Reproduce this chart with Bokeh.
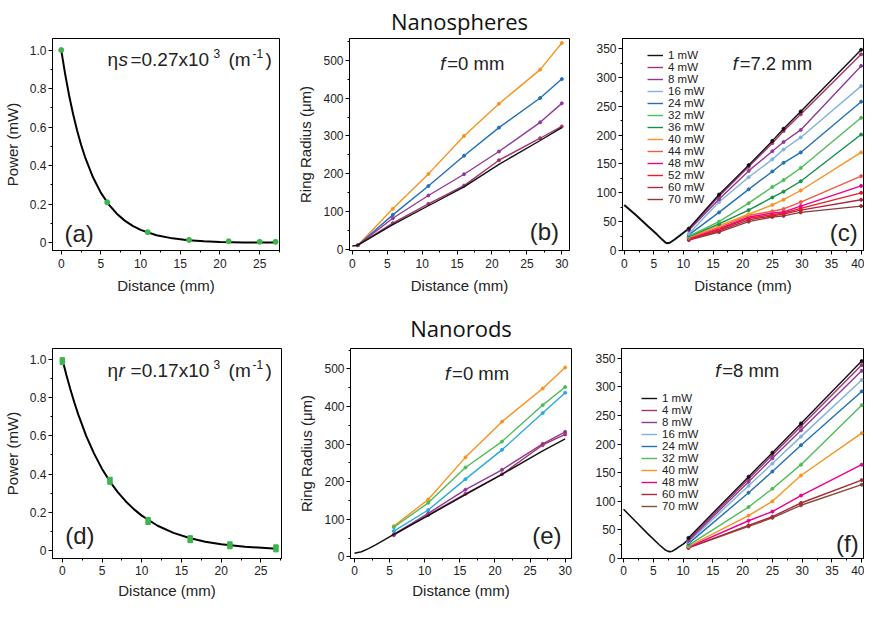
from bokeh.plotting import figure
from bokeh.models import Range1d, FixedTicker, Label, Legend, LegendItem, Title
from bokeh.layouts import column, row
from bokeh.embed import file_html
from bokeh.resources import INLINE

FONT = "Liberation Sans"

# ---------------- data ----------------
# (a) nanospheres power decay
a_pts_x = [0, 5.8, 10.9, 16.1, 21.1, 25.0, 27.0]
a_pts_y = [1.0, 0.21, 0.055, 0.015, 0.008, 0.005, 0.005]
a_fit_x = [0, 0.5, 1, 1.5, 2, 2.5, 3, 4, 5, 6, 7, 8, 9, 10, 12, 14, 16, 18, 20, 23, 27]
a_fit_y = [1.0, 0.874, 0.763, 0.667, 0.583, 0.509, 0.445, 0.34, 0.259, 0.198, 0.151, 0.115,
           0.088, 0.067, 0.039, 0.023, 0.013, 0.008, 0.0045, 0.002, 0.001]

# (d) nanorods power decay
d_pts_x = [0, 6.0, 10.8, 16.1, 21.1, 26.9]
d_pts_y = [0.99, 0.365, 0.155, 0.06, 0.028, 0.012]
d_fit_x = [0, 0.5, 1, 1.5, 2, 3, 4, 5, 6, 7, 8, 9, 10, 12, 14, 16, 18, 20, 23, 27]
d_fit_y = [1.0, 0.919, 0.844, 0.775, 0.712, 0.6, 0.507, 0.427, 0.361, 0.304, 0.257, 0.217,
           0.183, 0.13, 0.093, 0.066, 0.047, 0.033, 0.02, 0.01]

# (b) nanospheres, f = 0 mm
b_x = [0.8, 5.8, 10.9, 16, 21, 26.9, 30]
b_black_x = [0, 0.8, 5.8, 10.9, 16, 21, 26.9, 30]
b_black_y = [10, 12, 66, 116, 166, 225, 288, 322]
b_maroon_y = [12, 70, 121, 169, 236, 294, 325]
b_purple_y = [12, 83, 143, 199, 259, 336, 386]
b_blue_y = [12, 92, 168, 248, 322, 400, 450]
b_orange_y = [12, 108, 200, 300, 385, 475, 545]

# (c) nanospheres, f = 7.2 mm
c_focus_x = [0, 2, 4, 5.5, 6.5, 7.0, 7.3, 7.7, 8.5, 9.5, 10.9]
c_focus_y = [79, 61, 42, 28, 18, 13.5, 12.5, 13.5, 19, 27, 38]
c_x = [10.9, 16, 21, 25, 26.9, 29.8, 40]
c_labels = ["1 mW", "4 mW", "8 mW", "16 mW", "24 mW", "32 mW", "36 mW",
            "40 mW", "44 mW", "48 mW", "52 mW", "60 mW", "70 mW"]
c_colors = ["#111111", "#a3336e", "#8e3a9a", "#7fb2e0", "#2171b5", "#4dbd55", "#13914a",
            "#f7931e", "#f05a40", "#ec008c", "#ee1c25", "#b5253a", "#8c3b3b"]
c_y = [
    [38, 97, 148, 190, 211, 241, 348],
    [37, 94, 145, 186, 207, 236, 340],
    [35, 89, 138, 172, 188, 209, 320],
    [29, 84, 127, 158, 175, 196, 285],
    [27, 66, 106, 137, 152, 170, 258],
    [25, 50, 82, 110, 122, 143, 230],
    [24, 46, 70, 92, 102, 120, 201],
    [23, 43, 63, 79, 88, 104, 170],
    [22, 40, 61, 68, 72, 84, 129],
    [21, 38, 58, 65, 67, 77, 112],
    [20, 36, 56, 62, 65, 73, 100],
    [19, 34, 53, 60, 63, 70, 88],
    [18, 32, 50, 58, 60, 66, 77],
]

# (e) nanorods, f = 0 mm
e_x = [5.6, 10.5, 15.8, 21, 26.8, 30]
e_black_x = [0, 1, 2, 3, 4, 5.6, 10.5, 15.8, 21, 26.8, 30]
e_black_y = [10, 14, 22, 32, 43, 60, 110, 166, 220, 282, 314]
e_maroon_y = [58, 112, 168, 220, 298, 326]
e_purple_y = [60, 116, 179, 232, 301, 333]
e_cyan_y = [69, 125, 207, 285, 383, 437]
e_green_y = [79, 144, 238, 307, 404, 452]
e_orange_y = [82, 153, 265, 360, 448, 504]

# (f) nanorods, f = 8 mm
f_focus_x = [0, 2, 4, 6, 7, 7.5, 7.8, 8.2, 9, 10, 10.9]
f_focus_y = [86, 65, 44, 24, 15, 12.5, 12, 12.8, 18, 25, 33]
f_x = [10.9, 21, 25, 29.8, 40]
f_labels = ["1 mW", "4 mW", "8 mW", "16 mW", "24 mW", "32 mW", "40 mW", "48 mW", "60 mW", "70 mW"]
f_colors = ["#111111", "#a3336e", "#8e3a9a", "#7fb2e0", "#2171b5", "#4dbd55", "#f7931e",
            "#ec008c", "#a52a3a", "#8c4a3b"]
f_y = [
    [36, 143, 185, 236, 345],
    [33, 139, 181, 231, 338],
    [31, 134, 175, 224, 328],
    [29, 127, 166, 213, 312],
    [26, 115, 152, 198, 292],
    [23, 90, 122, 164, 268],
    [21, 75, 100, 145, 219],
    [20, 66, 82, 110, 164],
    [19, 58, 73, 97, 137],
    [18.5, 56, 71, 93, 129],
]

GREEN = "#3cb54a"


# ---------------- helpers ----------------
def make_fig(w, h, bl, br, bt, bb, xr, yr):
    p = figure(width=w, height=h, min_border_left=bl, min_border_right=br,
               min_border_top=bt, min_border_bottom=bb,
               x_range=Range1d(*xr), y_range=Range1d(*yr),
               output_backend="svg", toolbar_location=None)
    p.grid.visible = False
    p.outline_line_color = "black"
    p.outline_line_width = 1
    p.outline_line_alpha = 1
    p.background_fill_color = "white"
    p.border_fill_color = "white"
    return p


def style_axes(p, xt, xm, yt, ym, xlabel, ylabel, yover=None, xls=4, xas=6):
    p.xaxis.ticker = FixedTicker(ticks=xt, minor_ticks=xm)
    p.yaxis.ticker = FixedTicker(ticks=yt, minor_ticks=ym)
    if yover:
        p.yaxis.major_label_overrides = yover
    for ax in (p.xaxis[0], p.yaxis[0]):
        ax.major_tick_in = 0
        ax.major_tick_out = 4
        ax.minor_tick_in = 0
        ax.minor_tick_out = 2
        ax.axis_line_color = "black"
        ax.major_tick_line_color = "black"
        ax.minor_tick_line_color = "black"
        ax.major_label_text_font = FONT
        ax.major_label_text_font_size = "12px"
        ax.major_label_text_color = "#222222"
        ax.major_label_standoff = 2
        ax.axis_label_text_font = FONT
        ax.axis_label_text_font_size = "15px"
        ax.axis_label_text_font_style = "normal"
        ax.axis_label_text_color = "#222222"
    p.xaxis.axis_label = xlabel
    p.yaxis.axis_label = ylabel
    p.xaxis.major_label_standoff = xls
    p.xaxis.axis_label_standoff = xas
    p.yaxis.axis_label_standoff = 6


def lab(p, x, y, text, size, offset=0, yoff=0, style="normal"):
    p.add_layout(Label(x=x, y=y, text=text, x_offset=offset, y_offset=yoff,
                       text_font=FONT, text_font_size=size, text_font_style=style,
                       text_color="#222222", text_baseline="middle", text_align="left"))


def eta_label(p, x, y, sym, num):
    lab(p, x, y, "η", "19px")
    lab(p, x, y, sym, "19px", offset=11, style="italic")
    lab(p, x, y, "=" + num + "x10", "19px", offset=23)
    lab(p, x, y, "3", "12px", offset=106, yoff=6)
    lab(p, x, y, "(m", "19px", offset=121)
    lab(p, x, y, "-1", "12px", offset=145, yoff=6)
    lab(p, x, y, ")", "19px", offset=158)


def f_label(p, x, y, rest):
    lab(p, x, y, "f", "18.5px", style="italic")
    lab(p, x, y, rest, "18.5px", offset=7)


def add_title(p, text, standoff):
    t = Title(text=text, align="center", offset=18, standoff=standoff,
              text_font="Open Sans", text_font_size="22px", text_font_style="normal",
              text_color="#111111")
    p.add_layout(t, "above")


def add_legend(p, renderers, labels, loc):
    items = [LegendItem(label=l, renderers=[r]) for l, r in zip(labels, renderers)]
    lg = Legend(items=items, location=loc, padding=0, margin=0, spacing=0,
                label_height=12, glyph_height=12, glyph_width=16, label_standoff=5,
                label_text_font=FONT, label_text_font_size="11.5px",
                label_text_color="#222222",
                background_fill_alpha=0, border_line_alpha=0)
    p.add_layout(lg)


x40 = [0, 5, 10, 15, 20, 25, 30, 35, 40]
x40m = [2.5, 7.5, 12.5, 17.5, 22.5, 27.5, 32.5, 37.5]
x30 = [0, 5, 10, 15, 20, 25, 30]
x30m = [2.5, 7.5, 12.5, 17.5, 22.5, 27.5]
x25 = [0, 5, 10, 15, 20, 25]
x25m = [2.5, 7.5, 12.5, 17.5, 22.5, 27.5]
yP = [0, 0.2, 0.4, 0.6, 0.8, 1.0]
yPm = [0.1, 0.3, 0.5, 0.7, 0.9]
yP_labels = {0: "0", 1: "1.0"}
yR = [0, 100, 200, 300, 400, 500]
yRm = [50, 150, 250, 350, 450, 550]
yC = [0, 50, 100, 150, 200, 250, 300, 350]
yCm = [25, 75, 125, 175, 225, 275, 325]

# ---------------- row 1 ----------------
pa = make_fig(292, 301, 48, 13, 35, 51, (-1.1, 27.5), (-0.04, 1.06))
style_axes(pa, x25, x25m, yP, yPm, "Distance (mm)", "Power (mW)", yP_labels)
pa.line(a_fit_x, a_fit_y, line_color="black", line_width=2)
pa.scatter(a_pts_x, a_pts_y, size=5, color=GREEN)
eta_label(pa, 5.82, 0.95, "s", "0.27")
lab(pa, 0.4, 0.046, "(a)", "24px")

pb = make_fig(300, 301, 57, 23, 35, 51, (-0.4, 31.1), (-2, 557))
style_axes(pb, x30, x30m, yR, yRm, "Distance (mm)", "Ring Radius (μm)")
add_title(pb, "Nanospheres", 6)
for ys, col in [(b_orange_y, "#f7931e"), (b_blue_y, "#2171b5"),
                (b_purple_y, "#8e3a9a"), (b_maroon_y, "#a3336e")]:
    pb.line(b_x, ys, line_color=col, line_width=1.4)
    pb.scatter(b_x, ys, size=3, color=col)
pb.line(b_black_x, b_black_y, line_color="#111111", line_width=1.4)
f_label(pb, 12.6, 490, "=0 mm")
lab(pb, 25.4, 48, "(b)", "24px")

pc = make_fig(272, 301, 30, 1, 35, 51, (-0.3, 40.4), (0, 367.5))
style_axes(pc, x40, x40m, yC, yCm, "Distance (mm)", None)
pc.line(c_focus_x, c_focus_y, line_color="#111111", line_width=2)
c_rend = [None] * len(c_y)
for i in range(len(c_y) - 1, -1, -1):
    c_rend[i] = pc.line(c_x, c_y[i], line_color=c_colors[i], line_width=1.4)
    pc.scatter(c_x, c_y[i], size=3, color=c_colors[i])
add_legend(pc, c_rend, c_labels, (25, 45))
f_label(pc, 18.3, 325, "=7.2 mm")
lab(pc, 34.7, 31, "(c)", "24px")

# ---------------- row 2 ----------------
pd_ = make_fig(292, 300, 48, 11, 47, 40, (-1.24, 27.6), (-0.041, 1.056))
style_axes(pd_, x25, x25m, yP, yPm, "Distance (mm)", "Power (mW)", yP_labels, xls=3, xas=4)
pd_.line(d_fit_x, d_fit_y, line_color="black", line_width=2)
pd_.rect(d_pts_x, d_pts_y, width=4.5, height=7, width_units="screen",
         height_units="screen", color=GREEN)
eta_label(pd_, 5.7, 0.94, "r", "0.17")
lab(pd_, 0.37, 0.077, "(d)", "24px")

pe = make_fig(300, 300, 58, 21, 47, 40, (-0.57, 30.9), (-4, 554.5))
style_axes(pe, x30, x30m, yR, yRm, "Distance (mm)", "Ring Radius (μm)", xls=3, xas=4)
add_title(pe, "Nanorods", 12)
for ys, col in [(e_orange_y, "#f7931e"), (e_green_y, "#4dbd55"), (e_cyan_y, "#27aae1"),
                (e_purple_y, "#8e3a9a"), (e_maroon_y, "#a3336e")]:
    pe.line(e_x, ys, line_color=col, line_width=1.4)
    pe.scatter(e_x, ys, size=3, color=col)
pe.line(e_black_x, e_black_y, line_color="#111111", line_width=1.4)
f_label(pe, 12.9, 487, "=0 mm")
lab(pe, 25.3, 56, "(e)", "24px")

pf = make_fig(272, 300, 29, 1, 47, 40, (-0.34, 40.3), (0, 367))
style_axes(pf, x40, x40m, yC, yCm, None, None, xls=3, xas=4)
pf.line(f_focus_x, f_focus_y, line_color="#111111", line_width=1.6)
f_rend = [None] * len(f_y)
for i in range(len(f_y) - 1, -1, -1):
    f_rend[i] = pf.line(f_x, f_y[i], line_color=f_colors[i], line_width=1.4)
    pf.scatter(f_x, f_y[i], size=3, color=f_colors[i])
add_legend(pf, f_rend, f_labels, (20, 46))
f_label(pf, 15.4, 328, "=8 mm")
lab(pf, 35.7, 26, "(f)", "24px")

layout = column(row(pa, pb, pc), row(pd_, pe, pf))
open("out.html", "w").write(file_html(layout, INLINE))
